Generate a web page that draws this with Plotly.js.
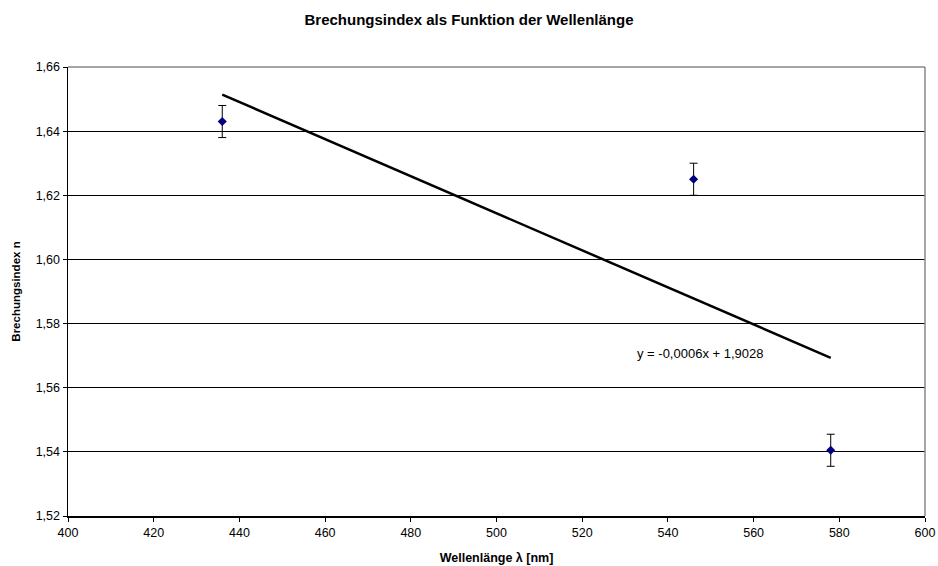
<!DOCTYPE html>
<html>
<head>
<meta charset="utf-8">
<script src="https://cdn.plot.ly/plotly-3.0.1.min.js"></script>
<style>html,body{margin:0;padding:0;background:#fff;}#chart{width:938px;height:566px;}</style>
</head>
<body>
<div id="chart"></div>
<script>
const wavelength = [436, 546, 578];
const refrIndex = [1.643, 1.625, 1.5405];
const errors = [0.005, 0.005, 0.005];
const xTicks = [400, 420, 440, 460, 480, 500, 520, 540, 560, 580, 600];
const yTicks = [1.52, 1.54, 1.56, 1.58, 1.60, 1.62, 1.64, 1.66];
const equationText = 'y = -0,0006x + 1,9028';

// least-squares trendline across data range
const n = wavelength.length;
const mx = wavelength.reduce((a,b)=>a+b,0)/n;
const my = refrIndex.reduce((a,b)=>a+b,0)/n;
let sxy=0, sxx=0;
for(let i=0;i<n;i++){sxy+=(wavelength[i]-mx)*(refrIndex[i]-my);sxx+=(wavelength[i]-mx)**2;}
const slope = sxy/sxx, icpt = my - slope*mx;
const tx = [Math.min(...wavelength), Math.max(...wavelength)];
const ty = tx.map(x=>icpt+slope*x);

const font = 'Liberation Sans, Arial, sans-serif';
const data = [
  {x: tx, y: ty, mode:'lines', line:{color:'#000', width:2.5}, hoverinfo:'skip', showlegend:false},
  {x: wavelength, y: refrIndex, mode:'markers', type:'scatter',
   marker:{symbol:'diamond', color:'#000080', size:7},
   error_y:{type:'data', array: errors, visible:true, color:'#000', thickness:1, width:4},
   showlegend:false}
];
const layout = {
  width:938, height:566,
  margin:{l:68, r:13, t:67, b:50},
  paper_bgcolor:'#fff', plot_bgcolor:'#fff',
  separators: ',.',
  font:{family:font, size:12, color:'#000'},
  title:{text:'<b>Brechungsindex als Funktion der Wellenlänge</b>', font:{family:font, size:15, color:'#000'}, x:0.5, xanchor:'center', y:0.965, yanchor:'middle'},
  xaxis:{range:[400,600], tickvals:xTicks, ticktext:xTicks.map(String), ticks:'outside', ticklen:4, tickcolor:'#000',
    showgrid:false, zeroline:false, showline:true, linecolor:'#000', linewidth:1.5,
    tickfont:{family:font, size:12.5, color:'#000'},
    title:{text:'<b>Wellenlänge λ [nm]</b>', font:{family:font, size:12.5, color:'#000'}, standoff:14}},
  yaxis:{range:[1.52,1.66], tickvals:yTicks, ticktext:yTicks.map(v=>v.toFixed(2).replace('.',',')), ticks:'outside', ticklen:4, tickcolor:'#000',
    showgrid:true, gridcolor:'#000', gridwidth:1, zeroline:false, showline:true, linecolor:'#000', linewidth:1.5,
    tickfont:{family:font, size:12.5, color:'#000'},
    title:{text:'<b>Brechungsindex n</b>', font:{family:font, size:11.5, color:'#000'}, standoff:12}},
  shapes:[
    {type:'line', xref:'paper', yref:'paper', x0:1, x1:1, y0:0, y1:1, line:{color:'#888', width:1.5}},
    {type:'line', xref:'paper', yref:'paper', x0:0, x1:1, y0:1, y1:1, line:{color:'#888', width:1.5}}
  ],
  annotations:[
    {x:0.7375, y:0.363, xref:'paper', yref:'paper', text:equationText, showarrow:false, xanchor:'center', yanchor:'middle', font:{family:font, size:13, color:'#000'}}
  ]
};
Plotly.newPlot('chart', data, layout, {displayModeBar:false, staticPlot:true});
</script>
</body>
</html>
